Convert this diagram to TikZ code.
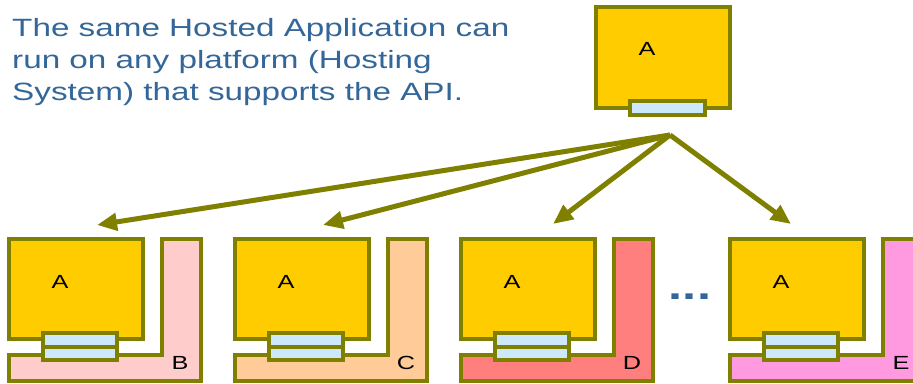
\documentclass[tikz,border=0pt]{standalone}
\usepackage{fontspec}
\setmainfont[FakeStretch=1.33]{Liberation Sans}
\usetikzlibrary{arrows.meta}
\definecolor{olivebar}{HTML}{808000}
\definecolor{appfill}{HTML}{FFCC00}
\definecolor{apifill}{HTML}{CCE8FA}
\definecolor{hostB}{HTML}{FFCCCC}
\definecolor{hostC}{HTML}{FFCC99}
\definecolor{hostD}{HTML}{FF7F7F}
\definecolor{hostE}{HTML}{FF99E0}
\definecolor{notetext}{HTML}{336699}
\begin{document}
\begin{tikzpicture}[x=1pt, y=-1pt,
  frame/.style={draw=olivebar, line width=4pt, line join=miter},
  ship/.style={olivebar, line width=5pt, -{Triangle[length=20pt,width=17pt]}},
  letter/.style={font=\fontsize{19}{19}\selectfont, inner sep=0pt}]
  \useasboundingbox (0,0) rectangle (913,383);
  \clip (0,0) rectangle (913,383);
  % note
  \node[anchor=north west, align=left, text=notetext, font=\fontsize{25}{32}\selectfont, inner sep=0pt] (note) at (12,18) {The same Hosted Application can\\run on any platform (Hosting\\System) that supports the API.};
  % top application
  \draw[frame, fill=appfill] (596,7) rectangle (730,108);
  \draw[frame, fill=apifill] (630,101) rectangle (705,115);
  \node[letter] (topA) at (647,49) {A};
  \coordinate (hub) at (670,135);
  % hosts
  \foreach \x/\c/\h in {7/hostB/B, 233/hostC/C, 459/hostD/D, 728/hostE/E} {
    \begin{scope}[xshift=\x]
      \draw[frame, fill=\c] (2,355) -- (155,355) -- (155,239) -- (194,239) -- (194,381) -- (2,381) -- cycle;
      \draw[frame, fill=appfill] (2,239) rectangle (136,339);
      \draw[frame, fill=apifill] (36,333) rectangle (110,360);
      \draw[frame] (36,347) -- (110,347);
      \node[letter] (app\h) at (53,282) {A};
      \node[letter] (host\h) at (173,363) {\h};
    \end{scope}
  }
  \node[text=notetext, font=\fontsize{38}{38}\selectfont\bfseries] (more) at (690,297) {...};
  % arrows
  \coordinate (tipB) at (97,225);
  \coordinate (tipC) at (323,225);
  \coordinate (tipD) at (553,224);
  \coordinate (tipE) at (791,224);
  \foreach \t in {B,C,D,E}
    \draw[ship] (hub) -- (tip\t);
\end{tikzpicture}
\end{document}
